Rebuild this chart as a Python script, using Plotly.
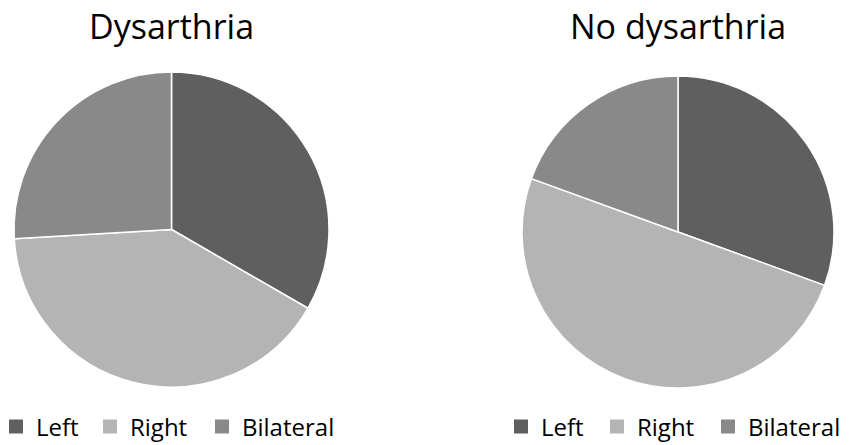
import plotly.graph_objects as go

categories = ["Left", "Right", "Bilateral"]
dysarthria_values = [9, 11, 7]
no_dysarthria_values = [11, 18, 7]
titles = ["Dysarthria", "No dysarthria"]
colors = ["#5f5f5f", "#b4b4b4", "#898989"]

W, H = 853, 445
FONT = "Open Sans"

# legend text left positions (px) for each group
legend_text_x = [[36, 130, 242], [541, 637, 748]]

def px_dom(x0, x1, y0, y1):
    return dict(x=[x0 / W, x1 / W], y=[1 - y1 / H, 1 - y0 / H])

fig = go.Figure()
fig.add_trace(go.Pie(
    labels=categories, values=dysarthria_values, sort=False, direction="clockwise",
    rotation=0, textinfo="none", hoverinfo="label+value", showlegend=False,
    marker=dict(colors=colors, line=dict(color="white", width=1.5)),
    domain=px_dom(14, 329, 72, 387),
))
fig.add_trace(go.Pie(
    labels=categories, values=no_dysarthria_values, sort=False, direction="clockwise",
    rotation=0, textinfo="none", hoverinfo="label+value", showlegend=False,
    marker=dict(colors=colors, line=dict(color="white", width=1.5)),
    domain=px_dom(522, 834, 76, 388),
))

legends = {}
n = 0
for g in range(2):
    for i, cat in enumerate(categories):
        n += 1
        name = "legend" if n == 1 else f"legend{n}"
        fig.add_trace(go.Scatter(
            x=[None], y=[None], mode="markers", name=cat, legend=name,
            marker=dict(symbol="square", size=14, color=colors[i]),
            showlegend=True, hoverinfo="skip",
        ))
        legends[name] = dict(
            orientation="h", yanchor="middle", xanchor="left",
            x=(legend_text_x[g][i] - 40) / W, y=1 - 427 / H,
            font=dict(family=FONT, size=24, color="#000000"),
            bgcolor="rgba(0,0,0,0)", borderwidth=0,
            itemclick=False, itemdoubleclick=False,
        )

fig.update_layout(
    width=W, height=H, margin=dict(l=0, r=0, t=0, b=0, autoexpand=False),
    paper_bgcolor="white", plot_bgcolor="white",
    xaxis=dict(visible=False), yaxis=dict(visible=False),
    annotations=[
        dict(text=titles[0], x=171 / W, y=1 - 26 / H, xref="paper", yref="paper",
             xanchor="center", yanchor="middle", showarrow=False,
             font=dict(family=FONT, size=34, color="#000000")),
        dict(text=titles[1], x=678 / W, y=1 - 26 / H, xref="paper", yref="paper",
             xanchor="center", yanchor="middle", showarrow=False,
             font=dict(family=FONT, size=34, color="#000000")),
    ],
    **legends,
)

fig.write_html("out.html")
